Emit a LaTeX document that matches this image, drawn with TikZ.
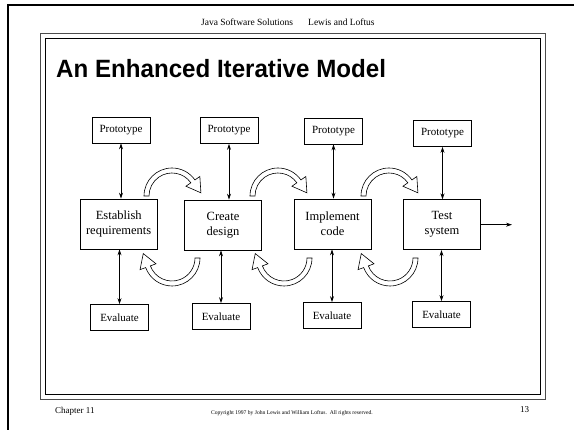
\documentclass[tikz,border=0pt]{standalone}
\usepackage{graphicx}
\usepackage{fontspec}
\setmainfont{Liberation Serif}
\newfontfamily\headsans{Liberation Sans}
\usetikzlibrary{arrows.meta, calc}

\begin{document}
\begin{tikzpicture}[x=1pt, y=1pt,
        stage/.style={rectangle, draw, line width=0.8pt, minimum width=77pt, minimum height=50pt, align=center, font=\fontsize{12.5}{15}\selectfont},
        side/.style={rectangle, draw, line width=0.8pt, minimum width=58pt, minimum height=26pt, font=\fontsize{11}{13}\selectfont},
        link/.style={{Stealth[length=6pt,width=4pt]}-{Stealth[length=6pt,width=4pt]}, line width=0.7pt},
        cycle arrow/.pic={
            \draw[fill=white, line width=0.6pt]
              (180:28) arc[start angle=180, end angle=#1, radius=28]
              -- (#1:34) -- ($(#1:25.5)+(#1-90:14)$) -- (#1:17) -- (#1:23)
              arc[start angle=#1, end angle=180, radius=23] -- cycle;
        }
    ]
        \useasboundingbox (0,0) rectangle (574,430);

        % Slide frame
        \draw[line width=2pt] (7.5,0) -- (7.5,424.5) -- (574,424.5);
        \draw[line width=0.9pt, black!70] (40.7,31) rectangle (545,396.7);
        \draw[line width=0.9pt] (45.7,36) rectangle (540.5,391.7);

        % Header and title
        \node[font=\fontsize{9.5}{11}\selectfont, anchor=base west, inner sep=0] (book) at (201,404) {Java Software Solutions};
        \node[font=\fontsize{9.5}{11}\selectfont, anchor=base west, inner sep=0] (authors) at (308,404) {Lewis and Loftus};
        \node[font=\headsans\bfseries\fontsize{25}{30}\selectfont, anchor=base west, inner sep=0] (title) at (56,352.7) {\scalebox{0.965}[1]{An Enhanced Iterative Model}};

        % Prototypes
        \node[side] (p1) at (121,300) {Prototype};
        \node[side] (p2) at (229,299.5) {Prototype};
        \node[side] (p3) at (333.5,299) {Prototype};
        \node[side] (p4) at (442.5,296.5) {Prototype};

        % Stages
        \node[stage] (s1) at (118.7,206) {Establish\\requirements};
        \node[stage] (s2) at (223,205) {Create\\design};
        \node[stage] (s3) at (332.5,206) {Implement\\code};
        \node[stage] (s4) at (442,205.3) {Test\\system};

        % Evaluations
        \node[side] (e1) at (119.5,112.5) {Evaluate};
        \node[side] (e2) at (221,113.5) {Evaluate};
        \node[side] (e3) at (332,114.5) {Evaluate};
        \node[side] (e4) at (441.5,115.5) {Evaluate};

        % Prototype and evaluate links
        \draw[link] (p1.south) -- (p1.south |- s1.north);
        \draw[link] (p2.south) -- (p2.south |- s2.north);
        \draw[link] (p3.south) -- (p3.south |- s3.north);
        \draw[link] (p4.south) -- (p4.south |- s4.north);
        \draw[link] (e1.north |- s1.south) -- (e1.north);
        \draw[link] (e2.north |- s2.south) -- (e2.north);
        \draw[link] (e3.north |- s3.south) -- (e3.north);
        \draw[link] (e4.north |- s4.south) -- (e4.north);

        % Way out
        \coordinate (done) at (512,204.3);
        \draw[-{Stealth[length=6pt,width=4pt]}, line width=0.7pt] (s4.east) -- (s4.east -| done);

        % Forward and back loops
        \pic at (172,234) {cycle arrow=35};
        \pic at (278,234) {cycle arrow=35};
        \pic at (389,234) {cycle arrow=35};
        \pic[rotate=180] at (172,172) {cycle arrow=20};
        \pic[rotate=180] at (284,172) {cycle arrow=20};
        \pic[rotate=180] at (390,172) {cycle arrow=20};

        % Footer
        \node[font=\fontsize{9}{11}\selectfont, anchor=base west, inner sep=0] (chapter) at (55,16) {Chapter 11};
        \node[font=\fontsize{5.6}{7}\selectfont, anchor=base, inner sep=0] (rights) at (292,15) {Copyright 1997 by John Lewis and William Loftus.\ \ All rights reserved.};
        \node[font=\fontsize{9}{11}\selectfont, anchor=base west, inner sep=0] (page) at (520,17.5) {13};
    \end{tikzpicture}
\end{document}
